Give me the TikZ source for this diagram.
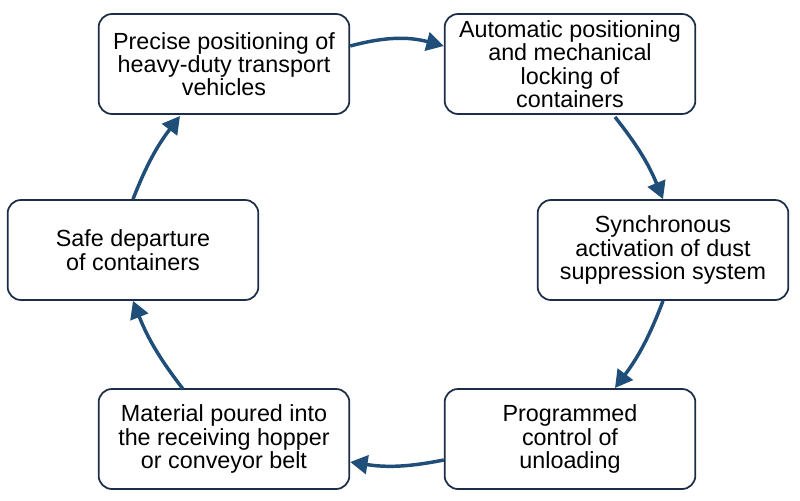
\documentclass[tikz,border=0pt]{standalone}
\usepackage{fontspec}
\setmainfont{Liberation Sans}
\usetikzlibrary{arrows.meta}
\definecolor{arr}{RGB}{31,78,121}
\definecolor{bord}{RGB}{28,45,72}
\begin{document}
\begin{tikzpicture}[x=0.75pt,y=-0.75pt,
  box/.style={draw=bord, line width=1.3pt, rounded corners=10pt, fill=white, align=center,
    minimum width=188pt, minimum height=75pt, font=\fontsize{17.5}{17.5}\selectfont, inner sep=1pt},
  flow/.style={draw=arr, line width=2.6pt, -{Triangle[length=13pt,width=14pt]}}]
\useasboundingbox (0,0) rectangle (800,500);
\node[box] (a) at (224,64) {Precise positioning of\\heavy-duty transport\\vehicles};
\node[box] (b) at (570,64) {Automatic positioning\\and mechanical\\locking of\\containers};
\node[box] (c) at (663,250) {Synchronous\\activation of dust\\suppression system};
\node[box] (d) at (570,439) {Programmed\\control of\\unloading};
\node[box] (e) at (224,439) {Material poured into\\the receiving hopper\\or conveyor belt};
\node[box] (f) at (133,250) {Safe departure\\of containers};
\draw[flow] (a.east|-0,46) to[bend left=15] (b.west|-0,46);
\draw[flow] (615,117) to[bend left=8] (c.north);
\draw[flow] (c.south) to[bend left=8] (615,388);
\draw[flow] (d.west|-0,460) to[bend left=10] (e.east|-0,462);
\draw[flow] (183,389) to[bend left=8] (f.south);
\draw[flow] (f.north) to[bend left=8] (180,116);
\end{tikzpicture}
\end{document}
